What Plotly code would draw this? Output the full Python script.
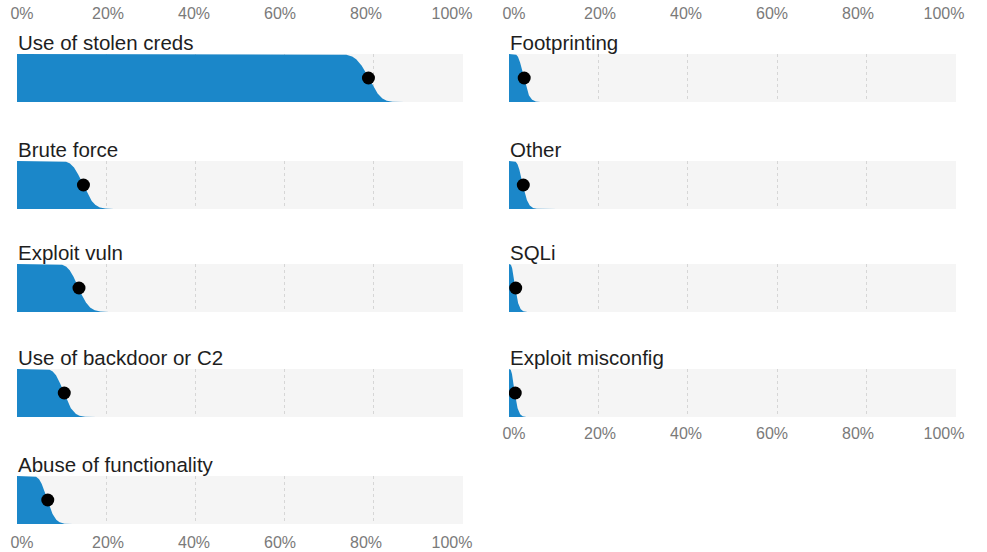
import numpy as np
import plotly.graph_objects as go

# ---------------- data ----------------
categories_left = ["Use of stolen creds", "Brute force", "Exploit vuln",
                   "Use of backdoor or C2", "Abuse of functionality"]
values_left = [78.8, 14.9, 13.9, 10.6, 6.9]          # point estimate, % of breaches
categories_right = ["Footprinting", "Other", "SQLi", "Exploit misconfig"]
values_right = [3.4, 3.2, 1.5, 1.4]
sample_size = 340                                      # drives the width of each slab
tick_values = [0, 20, 40, 60, 80, 100]
tick_labels = ["0%", "20%", "40%", "60%", "80%", "100%"]

# ---------------- styling / layout ----------------
W, H = 987, 552
BLUE = "#1b87c9"
BAND = "#f5f5f5"
GRID = "#d6d6d6"
TITLE_COLOR = "#1e1e1e"
TICK_COLOR = "#7a7a7a"
FONT = "Liberation Sans, Arial, sans-serif"

col_x = [(17, 463), (509, 956)]
row_tops = [54, 161, 264, 369, 476]
band_h = 48


def px_x(p):
    return p / W


def px_y(p):
    return 1 - p / H


def ccdf_curve(pct, n):
    """Complementary CDF of a Beta(mean=pct, concentration=n) on a fine grid."""
    m = pct / 100.0
    a, b = m * n, (1 - m) * n
    x = np.linspace(0, 1, 4001)
    xi = np.clip(x, 1e-9, 1 - 1e-9)
    logpdf = (a - 1) * np.log(xi) + (b - 1) * np.log1p(-xi)
    pdf = np.exp(logpdf - logpdf.max())
    cdf = np.cumsum(pdf)
    cdf = cdf / cdf[-1]
    return x * 100, 1 - cdf


fig = go.Figure()
layout = dict(
    width=W, height=H,
    margin=dict(l=0, r=0, t=0, b=0, pad=0, autoexpand=False),
    paper_bgcolor="white", plot_bgcolor=BAND,
    showlegend=False,
    font=dict(family=FONT),
    annotations=[],
)

panels = []
for c, (cats, vals) in enumerate([(categories_left, values_left),
                                  (categories_right, values_right)]):
    for r, (cat, v) in enumerate(zip(cats, vals)):
        panels.append((c, r, cat, v))

for k, (c, r, cat, v) in enumerate(panels, start=1):
    x0, x1 = col_x[c]
    top = row_tops[r]
    bot = top + band_h
    xs, ys = ccdf_curve(v, sample_size)
    sfx = "" if k == 1 else str(k)
    fig.add_trace(go.Scatter(
        x=xs, y=ys, mode="lines", fill="tozeroy", fillcolor=BLUE,
        line=dict(width=0, color=BLUE), hoverinfo="skip",
        xaxis="x" + sfx, yaxis="y" + sfx))
    fig.add_trace(go.Scatter(
        x=[v], y=[0.5], mode="markers",
        marker=dict(color="black", size=13),
        xaxis="x" + sfx, yaxis="y" + sfx))
    layout["xaxis" + sfx] = dict(
        domain=[px_x(x0), px_x(x1)], range=[0, 100], anchor="y" + sfx,
        tickvals=tick_values[1:], showticklabels=False, ticks="",
        showgrid=True, gridcolor=GRID, gridwidth=1.2, griddash="3px,3px",
        zeroline=False, showline=False, fixedrange=True, automargin=False)
    layout["yaxis" + sfx] = dict(
        domain=[px_y(bot), px_y(top)], range=[0, 1], anchor="x" + sfx,
        showticklabels=False, showgrid=False, zeroline=False, ticks="",
        showline=False, fixedrange=True, automargin=False)
    layout["annotations"].append(dict(
        text=cat, xref="paper", yref="paper",
        x=px_x(x0 - 1), y=px_y(top + 2), xanchor="left", yanchor="bottom",
        showarrow=False, font=dict(size=20.5, color=TITLE_COLOR, family=FONT)))

# percent label axes (top of both columns, bottom of both columns)
n_left = len(categories_left)
label_axes = [
    (1, "top", 22.5),                    # first left panel
    (n_left + 1, "top", 22.5),           # first right panel
    (n_left, "bottom", 530.5),           # last left panel
    (len(panels), "bottom", 422),        # last right panel
]
for j, (k, side, pos) in enumerate(label_axes):
    aid = 10 + j
    sfx = "" if k == 1 else str(k)
    c = panels[k - 1][0]
    x0, x1 = col_x[c]
    # labels sit slightly inside the gridline positions, as in the original
    lo = -5 / 4.3
    hi = lo + (x1 - x0) / 4.3
    fig.add_trace(go.Scatter(x=[None], y=[None], mode="markers",
                             xaxis="x%d" % aid, yaxis="y" + sfx,
                             hoverinfo="skip"))
    layout["xaxis%d" % aid] = dict(
        overlaying="x" + sfx, anchor="free", position=px_y(pos), side=side,
        range=[lo, hi], tickvals=tick_values, ticktext=tick_labels,
        showgrid=False, zeroline=False, showline=False, ticks="",
        tickfont=dict(size=16, color=TICK_COLOR, family=FONT),
        fixedrange=True, automargin=False)

fig.update_layout(**layout)
fig.write_html("out.html",
               config={"displayModeBar": False, "staticPlot": True},
               post_script="document.body.style.margin='0';"
                           "document.body.style.overflow='hidden';")
